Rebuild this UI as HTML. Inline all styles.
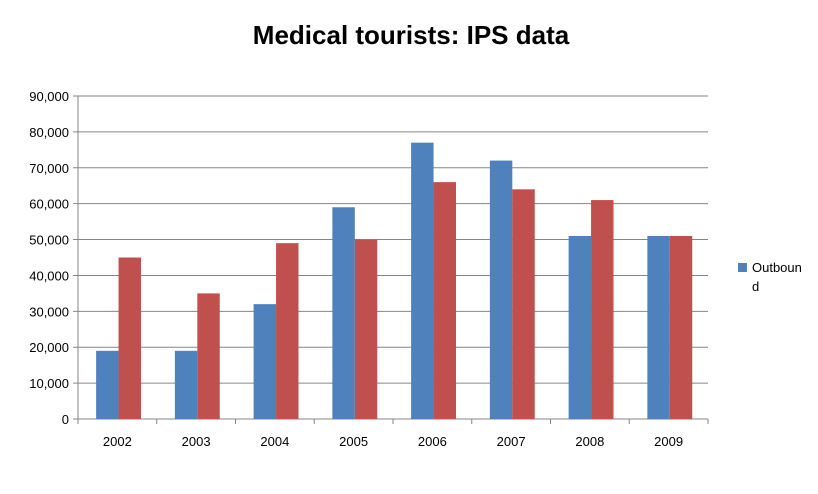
<!DOCTYPE html>
<html><head><meta charset="utf-8"><style>
body{margin:0;background:#fff;}
svg text{font-family:"Liberation Sans",Arial,sans-serif;}
</style></head><body>
<svg width="818" height="489" xmlns="http://www.w3.org/2000/svg">
<text x="411" y="44" text-anchor="middle" font-size="26" font-weight="bold" fill="#000">Medical tourists: IPS data</text>
<g id="grid"></g><g id="bars"></g><g id="axes"></g>
<rect x="738" y="263" width="9" height="9" fill="#4f81bd"/>
<text x="752" y="272" font-size="13">Outboun</text>
<text x="752" y="291" font-size="13">d</text>
</svg>
<script>
const categories=["2002","2003","2004","2005","2006","2007","2008","2009"];
const outbound=[19000,19000,32000,59000,77000,72000,51000,51000];
const inbound=[45000,35000,49000,50000,66000,64000,61000,51000];
const yTicks=[0,10000,20000,30000,40000,50000,60000,70000,80000,90000];
const X0=78,X1=708,Y0=419,Y1=96,YMAX=90000;
const NS="http://www.w3.org/2000/svg";
const y=v=>Y0-(v/YMAX)*(Y0-Y1);
const cw=(X1-X0)/categories.length;
const xc=i=>X0+i*cw;
function mk(t,a,p){const e=document.createElementNS(NS,t);for(const k in a)e.setAttribute(k,a[k]);p.appendChild(e);return e;}
const grid=document.getElementById('grid'),bars=document.getElementById('bars'),axes=document.getElementById('axes');
yTicks.forEach(v=>{
 const l=mk('line',{x1:X0-5,x2:X1,y1:y(v),y2:y(v),stroke:v===0?'#868686':'#868686','stroke-width':1},grid);
 
 
 const t=mk('text',{x:X0-9,y:y(v)+5,'text-anchor':'end','font-size':13},axes);
 t.textContent=v===0?'0':v.toLocaleString('en-US');
 
 
});
const ax=mk('line',{x1:X0,x2:X0,y1:Y1,y2:Y0,stroke:'#868686'},axes);


const bw=cw*0.285,off=cw*0.23;
categories.forEach((c,i)=>{
 const b1=mk('rect',{x:xc(i)+off,y:y(outbound[i]),width:bw,height:Y0-y(outbound[i]),fill:'#4f81bd'},bars);
 
 
 const b2=mk('rect',{x:xc(i)+off+bw,y:y(inbound[i]),width:bw,height:Y0-y(inbound[i]),fill:'#c0504d'},bars);
 
 
 const tk=mk('line',{x1:xc(i+1),x2:xc(i+1),y1:Y0,y2:Y0+5,stroke:'#868686'},axes);
 
 
 const t=mk('text',{x:xc(i)+cw/2,y:Y0+27,'text-anchor':'middle','font-size':13},axes);
 t.textContent=c;
 
 
});
const t0=mk('line',{x1:X0,x2:X0,y1:Y0,y2:Y0+5,stroke:'#868686'},axes);


</script>
</body></html>
